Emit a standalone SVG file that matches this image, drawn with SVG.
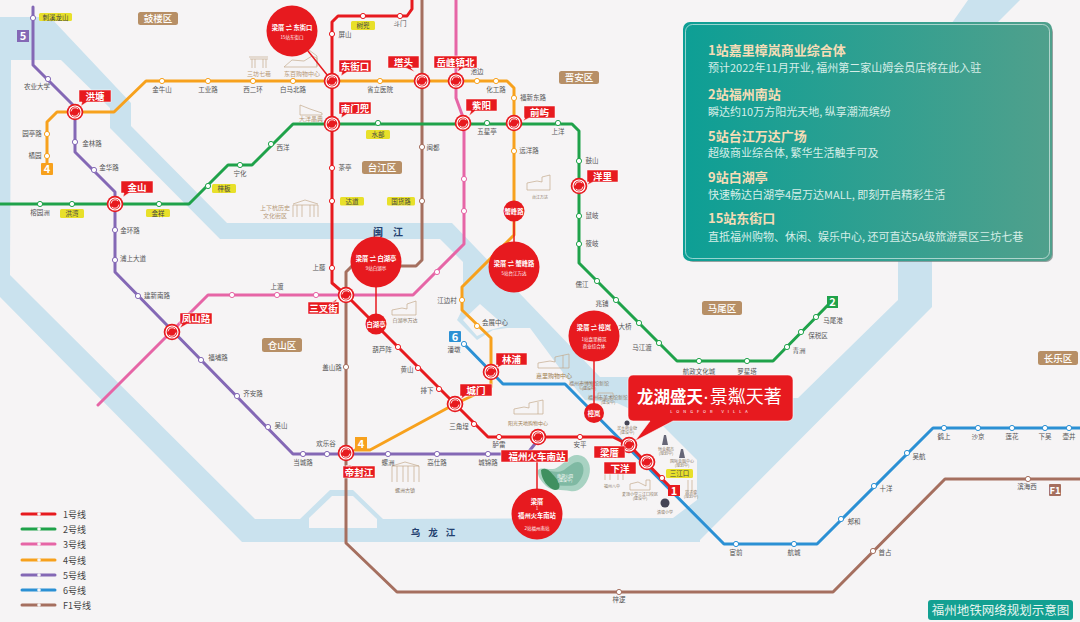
<svg xmlns="http://www.w3.org/2000/svg" width="1080" height="622" viewBox="0 0 1080 622">
<style>
text{font-family:"Noto Sans CJK SC","Noto Sans",sans-serif}
.ln{fill:none;stroke-width:3;stroke-linejoin:round;stroke-linecap:round}
.l1{stroke:#e71a1f}.l2{stroke:#1fa24a}.l3{stroke:#e665a6}.l4{stroke:#f7a11d}.l5{stroke:#8468b5}.l6{stroke:#2b90d4}.lf{stroke:#a56f5f}
.s{fill:#fff;stroke-width:1}
.st{font-size:6.5px;fill:#555;text-anchor:middle}
.cl{fill:#e71a1f;stroke:#fff;stroke-width:.5}
.ct{font-size:9.5px;font-weight:700;fill:#fff;text-anchor:middle}
.yb{fill:#e8e02a}
.yt{font-size:6.5px;fill:#444;text-anchor:middle}
.db{fill:#b78f66}
.dt{font-size:9.5px;font-weight:500;fill:#fff;text-anchor:middle}
.lb{font-size:11px;font-weight:700;fill:#fff;text-anchor:middle}
.lm{font-size:6px;fill:#b79a7a;text-anchor:middle}
.lm2{font-size:4px;fill:#8a7a68;text-anchor:middle}
.ic{fill:none;stroke:#c4aa8c;stroke-width:.7}
.c1{font-size:6.3px;font-weight:700;fill:#fff;text-anchor:middle}
.c2{font-size:4.5px;fill:#fff;text-anchor:middle}
.h{font-size:13px;font-weight:700;fill:#f6dcb6}
.p{font-size:11px;fill:#d6eee8}
.lg{font-size:9px;fill:#444}
</style>
<defs>
<g id="ix">
<circle r="8.3" fill="#e71a1f"/>
<circle r="6" fill="none" stroke="#fff" stroke-width="1.2"/>
<path d="M-4-.6A4.2 4.2 0 0 1 3.2-3" fill="none" stroke="#fff" stroke-width=".9"/>
<path d="M4 .6A4.2 4.2 0 0 1-3.2 3" fill="none" stroke="#fff" stroke-width=".9"/>
</g>
<linearGradient id="pg" x1="0" x2="1" y1="0" y2="0"><stop offset="0" stop-color="#0d9f95"/><stop offset="1" stop-color="#50a08c"/></linearGradient>
</defs>
<rect width="1080" height="622" fill="#f6f4f5"/>
<g id="water">
<polygon fill="#cae2ee" points="0,17 50,17 131,103 131,126 227,223 452,223 600,377 700,377 700,398 798,398 898,300 898,100 968,0 1020,0 932,88 932,307 700,540 700,542 242,542 0,297"/>
<polygon fill="#f6f4f5" points="11,60 61,60 110,108 110,128 220,239 440,239 463,262 463,308 457,320 477,340 493,330 507,328 530,328 567,378 585,400 617,403 660,423 697,460 697,500 673,518 383,519 353,490 330,490 300,519 255,519 35,300 10,275"/>
<polygon fill="#f6f4f5" points="309,518 332,496 353,496 377,519 377,528 309,528"/>
<polygon fill="#f6f4f5" points="463,320 480,304 505,326 490,330 477,336"/>
</g>
<g id="park">
<path d="M538 470C542 466 552 472 558 467C566 462 570 454 578 455C588 456 592 466 589 476C586 486 578 493 570 491C562 489 552 492 546 486C541 481 537 476 538 470Z" fill="#a8d2c2"/>
<path d="M544 470C550 470 556 474 564 470C572 464 576 460 581 463C586 468 583 478 577 484C570 488 562 484 552 486C547 482 543 476 544 470Z" fill="#7fb9a3"/>
<path d="M541 470C546 466 551 472 555 477C561 484 561 490 555 490C549 489 541 480 541 470Z" fill="#3f9060"/>
</g>
<g id="landmarks">
<path class="ic" d="M250 59h18M252 59v9M266 59v9M255 59v9M263 59v9M249 57l19 0"/>
<path class="ic" d="M284 67l8-7 12 1 8-5 5 2 0 9zM309 50l8 6v10"/>
<path class="ic" d="M300 115v-10l10 4 12 4v2z"/>
<path class="ic" d="M293 217v-12h25v12M297 205v12M314 205v12M302 205v12M310 205v12M293 204l12-4 13 4"/>
<path class="ic" d="M527 190v-7l10-2 5 1v-5l8-2v15z"/>
<path class="ic" d="M392 315v-5l10-2 5 1v-5l9-3v14z"/>
<path class="ic" d="M538 368v-5l12-2 5 1v-5l14-3v14zM563 355v13"/>
<path class="ic" d="M514 414v-5l10-2 5 1v-5l14-3v14zM538 402v12"/>
<path class="ic" d="M392 482v-16h27v16M397 466v16M414 466v16M403 466v16M408 466v16M392 466l13-4 14 4" stroke="#999"/>
<path class="ic" d="M580 383h12v6h-12zM598 393h15v6h-15z" stroke="#889"/>
<path class="ic" d="M605 480v-8h18v8M610 472v8M618 472v8"/>
<path class="ic" d="M630 490v-6l8-2 8 4v-6l4 0v10z"/>
<path class="ic" d="M688 480v14M692 480v14"/>
<path d="M662 445l2-10 2 0 2 10zM679 458l2-9 2 0 2 9z" fill="#667"/>
<circle cx="627" cy="423" r="2.5" fill="#445"/>
<circle cx="665" cy="503" r="4.5" fill="#445"/>
<text class="lm" x="259" y="76">三坊七巷</text>
<text class="lm" x="302" y="76">东百购物中心</text>
<text class="lm" x="311" y="121">大洋晶典</text>
<text class="lm" x="275" y="210">上下杭历史</text>
<text class="lm" x="275" y="218">文化街区</text>
<text class="lm2" x="540" y="199">台江万达</text>
<text class="lm2" x="405" y="322" style="font-size:5px">白湖亭万达</text>
<text class="lm" x="554" y="378" style="fill:#a08050">嘉里购物中心</text>
<text class="lm" x="528" y="425" style="fill:#a08050;font-size:5px">阳光天地购物中心</text>
<text class="lm2" x="405" y="492" style="font-size:5px">螺洲古镇</text>
<text class="lm2" x="589" y="385" style="font-size:5px">福州市博物馆新馆</text>
<text class="lm2" x="589" y="390">(建设中)</text>
<text class="lm2" x="608" y="399" style="font-size:5px">福州市美术馆新馆</text>
<text class="lm2" x="608" y="404">(建设中)</text>
<text class="lm2" x="565" y="478" style="fill:#fff">南湖公园</text>
<text class="lm2" x="565" y="482" style="fill:#fff">(建设中)</text>
<text class="lm2" x="627" y="430">滨水商业街</text>
<text class="lm2" x="627" y="434">(建设中)</text>
<text class="lm2" x="666" y="451">恒业都市</text>
<text class="lm2" x="666" y="455">(规划中)</text>
<text class="lm2" x="682" y="463">国际金融中心</text>
<text class="lm2" x="682" y="467">(规划中)</text>
<text class="lm2" x="612" y="488">福州八中</text>
<text class="lm2" x="640" y="496">麦顶小学三江口校区</text>
<text class="lm2" x="640" y="500">(建设中)</text>
<text class="lm2" x="665" y="514">清塘小学</text>
<text class="lm2" x="691" y="494">岩子塘</text>
<text class="lm2" x="691" y="498">(规划中)</text>
</g>
<g id="connectors">
<path class="ln lf" d="M422 0V260L416 266H352L346 272V543L397 592H833L945 479H1080"/>
<path class="ln l5" d="M33 7V65L75 107V152L115 192V272L293 454H527L538 440"/>
<path class="ln l3" d="M456 0V98L464 120V244L413 295H208L98 405"/>
<path class="ln l4" d="M47 163V122L57 112H114L146 81H507L514 88V235L462 287V310L491 338V387L455 404L370 450H355"/>
<path class="ln l2" d="M0 204H189L228 165H252L293 124H572L579 131V263L677 361H773L828 305"/>
<path class="ln l6" d="M464 344L503 384H565L724 544H817L933 428H1080"/>
<path class="ln l1" d="M412 0V9L407 16H338L332 22V283L346 295L488 437H613L629 445L673 490"/>
<path d="M292 31L332 81M376 262V324M514 211V267M594 336V413M537 462V514" fill="none" stroke="#e71a1f" stroke-width="1.5"/>
</g>
<g id="stations">
<g class="l1"><circle class="s" cx="332" cy="34" r="2.6"/><circle class="s" cx="332" cy="168" r="2.6"/><circle class="s" cx="332" cy="201" r="2.6"/><circle class="s" cx="332" cy="268" r="2.6"/><circle class="s" cx="363" cy="16" r="2.6"/><circle class="s" cx="400" cy="16" r="2.6"/><circle class="s" cx="398" cy="347" r="2.6"/><circle class="s" cx="418" cy="368" r="2.6"/><circle class="s" cx="439" cy="389" r="2.6"/><circle class="s" cx="474" cy="424" r="2.6"/><circle class="s" cx="499" cy="437" r="2.6"/><circle class="s" cx="580" cy="437" r="2.6"/><circle class="s" cx="662" cy="478" r="2.6"/></g>
<g class="l2"><circle class="s" cx="40" cy="204" r="2.6"/><circle class="s" cx="72" cy="204" r="2.6"/><circle class="s" cx="159" cy="204" r="2.6"/><circle class="s" cx="208" cy="186" r="2.6"/><circle class="s" cx="240" cy="165" r="2.6"/><circle class="s" cx="271" cy="144" r="2.6"/><circle class="s" cx="378" cy="123" r="2.6"/><circle class="s" cx="487" cy="123" r="2.6"/><circle class="s" cx="558" cy="123" r="2.6"/><circle class="s" cx="579" cy="161" r="2.6"/><circle class="s" cx="579" cy="216" r="2.6"/><circle class="s" cx="579" cy="244" r="2.6"/><circle class="s" cx="597" cy="281" r="2.6"/><circle class="s" cx="616" cy="300" r="2.6"/><circle class="s" cx="639" cy="323" r="2.6"/><circle class="s" cx="659" cy="343" r="2.6"/><circle class="s" cx="699" cy="361" r="2.6"/><circle class="s" cx="747" cy="361" r="2.6"/><circle class="s" cx="787" cy="347" r="2.6"/><circle class="s" cx="801" cy="332" r="2.6"/><circle class="s" cx="816" cy="317" r="2.6"/></g>
<g class="l3"><circle class="s" cx="464" cy="179" r="2.6"/><circle class="s" cx="464" cy="211" r="2.6"/><circle class="s" cx="437" cy="272" r="2.6"/><circle class="s" cx="316" cy="295" r="2.6"/><circle class="s" cx="277" cy="295" r="2.6"/><circle class="s" cx="232" cy="295" r="2.6"/></g>
<g class="l4"><circle class="s" cx="47" cy="134" r="2.6"/><circle class="s" cx="47" cy="156" r="2.6"/><circle class="s" cx="162" cy="81" r="2.6"/><circle class="s" cx="208" cy="81" r="2.6"/><circle class="s" cx="253" cy="81" r="2.6"/><circle class="s" cx="293" cy="81" r="2.6"/><circle class="s" cx="380" cy="81" r="2.6"/><circle class="s" cx="477" cy="81" r="2.6"/><circle class="s" cx="496" cy="81" r="2.6"/><circle class="s" cx="514" cy="98" r="2.6"/><circle class="s" cx="514" cy="151" r="2.6"/><circle class="s" cx="462" cy="300" r="2.6"/><circle class="s" cx="477" cy="326" r="2.6"/></g>
<g class="l5"><circle class="s" cx="33" cy="18" r="2.6"/><circle class="s" cx="48" cy="79" r="2.6"/><circle class="s" cx="75" cy="142" r="2.6"/><circle class="s" cx="94" cy="170" r="2.6"/><circle class="s" cx="115" cy="230" r="2.6"/><circle class="s" cx="115" cy="260" r="2.6"/><circle class="s" cx="138" cy="296" r="2.6"/><circle class="s" cx="201" cy="360" r="2.6"/><circle class="s" cx="237" cy="396" r="2.6"/><circle class="s" cx="268" cy="427" r="2.6"/><circle class="s" cx="303" cy="454" r="2.6"/><circle class="s" cx="327" cy="454" r="2.6"/><circle class="s" cx="388" cy="454" r="2.6"/><circle class="s" cx="437" cy="454" r="2.6"/><circle class="s" cx="488" cy="454" r="2.6"/></g>
<g class="l6"><circle class="s" cx="464" cy="344" r="2.6"/><circle class="s" cx="736" cy="544" r="2.6"/><circle class="s" cx="794" cy="544" r="2.6"/><circle class="s" cx="841" cy="519" r="2.6"/><circle class="s" cx="874" cy="486" r="2.6"/><circle class="s" cx="907" cy="453" r="2.6"/><circle class="s" cx="944" cy="428" r="2.6"/><circle class="s" cx="978" cy="428" r="2.6"/><circle class="s" cx="1012" cy="428" r="2.6"/><circle class="s" cx="1045" cy="428" r="2.6"/><circle class="s" cx="1069" cy="428" r="2.6"/></g>
<g class="lf"><circle class="s" cx="422" cy="147" r="2.6"/><circle class="s" cx="422" cy="201" r="2.6"/><circle class="s" cx="346" cy="367" r="2.6"/><circle class="s" cx="619" cy="592" r="2.6"/><circle class="s" cx="873" cy="551" r="2.6"/><circle class="s" cx="1028" cy="479" r="2.6"/></g>
</g>
<g id="station-labels">
<text class="st" x="37" y="89">农业大学</text><text class="st" x="32" y="136">园亭路</text><text class="st" x="35" y="158">橘园</text><text class="st" x="92" y="146">金林路</text><text class="st" x="109" y="170">金华路</text><text class="st" x="40" y="215">榕园洲</text><text class="st" x="130" y="233">金环路</text><text class="st" x="133" y="261">浦上大道</text><text class="st" x="157" y="298">建新南路</text><text class="st" x="162" y="92">金牛山</text><text class="st" x="208" y="92">工业路</text><text class="st" x="253" y="92">西二环</text><text class="st" x="293" y="92">白马北路</text><text class="st" x="240" y="176">宁化</text><text class="st" x="283" y="150">西洋</text><text class="st" x="345" y="170">茶亭</text><text class="st" x="345" y="37">屏山</text><text class="st" x="400" y="26">斗门</text><text class="st" x="380" y="92">省立医院</text><text class="st" x="477" y="74">池边</text><text class="st" x="496" y="92">化工路</text><text class="st" x="533" y="100">福新东路</text><text class="st" x="487" y="134">五星亭</text><text class="st" x="558" y="134">上洋</text><text class="st" x="529" y="153">远洋路</text><text class="st" x="433" y="150">闽都</text><text class="st" x="592" y="163">鼓山</text><text class="st" x="592" y="218">鼠岐</text><text class="st" x="592" y="246">筱岐</text><text class="st" x="582" y="287">儒江</text><text class="st" x="602" y="306">兆铺</text><text class="st" x="625" y="329">大桥</text><text class="st" x="642" y="350">马江渡</text><text class="st" x="699" y="374">航政文化城</text><text class="st" x="747" y="374">罗星塔</text><text class="st" x="799" y="353">青洲</text><text class="st" x="818" y="338">保税区</text><text class="st" x="833" y="323">马尾港</text><text class="st" x="319" y="270">上藤</text><text class="st" x="277" y="289">上渡</text><text class="st" x="447" y="303">江边村</text><text class="st" x="495" y="325">会展中心</text><text class="st" x="454" y="352">潘墩</text><text class="st" x="382" y="352">葫芦阵</text><text class="st" x="407" y="372">黄山</text><text class="st" x="427" y="393">排下</text><text class="st" x="459" y="429">三角埕</text><text class="st" x="332" y="370">盖山路</text><text class="st" x="326" y="446">欢乐谷</text><text class="st" x="303" y="465">当城路</text><text class="st" x="218" y="360">福埔路</text><text class="st" x="253" y="396">齐安路</text><text class="st" x="281" y="428">吴山</text><text class="st" x="388" y="465">螺洲</text><text class="st" x="437" y="465">高仕路</text><text class="st" x="488" y="465">城锦路</text><text class="st" x="499" y="447">胪雷</text><text class="st" x="580" y="447">安平</text><text class="st" x="736" y="555">宦前</text><text class="st" x="794" y="555">航城</text><text class="st" x="854" y="524">郏和</text><text class="st" x="886" y="491">十洋</text><text class="st" x="919" y="459">吴航</text><text class="st" x="944" y="439">鹤上</text><text class="st" x="978" y="439">沙京</text><text class="st" x="1012" y="439">莲花</text><text class="st" x="1045" y="439">下吴</text><text class="st" x="1069" y="439">壶井</text><text class="st" x="1027" y="489">滨海西</text><text class="st" x="885" y="555">首占</text><text class="st" x="619" y="602">梓逻</text>
</g>
<g id="yellow-labels">
<rect class="yb" x="39" y="13" width="33" height="8" rx="1.5"/><text class="yt" x="55.5" y="19.5">刺溪龙山</text>
<rect class="yb" x="60" y="209" width="24" height="9" rx="1.5"/><text class="yt" x="72" y="216">洪湾</text>
<rect class="yb" x="146" y="209" width="24" height="8" rx="1.5"/><text class="yt" x="158" y="215.5">金祥</text>
<rect class="yb" x="212" y="184" width="24" height="9" rx="1.5"/><text class="yt" x="224" y="191">梓板</text>
<rect class="yb" x="340" y="197" width="24" height="8.5" rx="1.5"/><text class="yt" x="352" y="203.5">达道</text>
<rect class="yb" x="387" y="197" width="28" height="8.5" rx="1.5"/><text class="yt" x="401" y="203.5">国货路</text>
<rect class="yb" x="366" y="130" width="24" height="9" rx="1.5"/><text class="yt" x="378" y="137">水部</text>
<rect class="yb" x="351" y="21" width="24" height="9" rx="1.5"/><text class="yt" x="363" y="28">树兜</text>
<rect class="yb" x="666" y="469" width="27" height="9" rx="1.5"/><text class="yt" x="679.5" y="476">三江口</text>
</g>
<g id="districts">
<rect class="db" x="138" y="12" width="40" height="13" rx="2.5"/><text class="dt" x="158" y="22">鼓楼区</text>
<rect class="db" x="362" y="161" width="40" height="13" rx="2.5"/><text class="dt" x="382" y="171">台江区</text>
<rect class="db" x="559" y="71" width="40" height="13" rx="2.5"/><text class="dt" x="579" y="81">晋安区</text>
<rect class="db" x="262" y="338" width="40" height="14" rx="2.5"/><text class="dt" x="282" y="348.500">仓山区</text>
<rect class="db" x="702" y="301" width="40" height="14" rx="2.500"/><text class="dt" x="722" y="311.500">马尾区</text>
<rect class="db" x="1038" y="351" width="40" height="14" rx="2.5"/><text class="dt" x="1058" y="361.500">长乐区</text>
<text x="393" y="236" font-size="10" font-weight="700" fill="#23406f" text-anchor="middle" letter-spacing="10">闽江</text>
<text x="437" y="536" font-size="9.500" font-weight="700" fill="#23406f" text-anchor="middle" letter-spacing="8">乌龙江</text>
</g>
<g id="line-badges">
<rect x="17" y="30" width="12" height="12" fill="#8468b5"/><text class="lb" x="23" y="40">5</text>
<rect x="41" y="163" width="12" height="12" fill="#f7a11d" rx="1"/><text class="lb" x="47" y="173">4</text>
<rect x="827" y="296" width="11" height="12" fill="#1fa24a"/><text class="lb" x="832.500" y="306">2</text>
<rect x="449" y="331" width="12" height="11" fill="#2b90d4" rx="1"/><text class="lb" x="455" y="341">6</text>
<rect x="668" y="485" width="12" height="11" fill="#e71a1f"/><text class="lb" x="674" y="495">1</text>
<rect x="355" y="437" width="12" height="13" fill="#f7a11d"/><text class="lb" x="361" y="448">4</text>
<rect x="1049" y="484" width="12" height="12" fill="#a56f5f" rx="1"/><text class="lb" x="1055" y="494" style="font-size:9.500px">F1</text>
</g>
<g id="node-hongtang"><use href="#ix" x="75" y="112"/><path class="cl" d="M79 90h32v12h-24l-6 4 1-4h-3z"/><text class="ct" x="95" y="99.500">洪塘</text></g>
<g id="node-jinshan"><use href="#ix" x="115" y="204"/><path class="cl" d="M121 181h32v12h-24l-6 4 1-4h-3z"/><text class="ct" x="137" y="190.500">金山</text></g>
<g id="node-dongjiekou"><use href="#ix" x="332" y="81"/><path class="cl" d="M339 60h32v12h-24l-6 4 1-4h-3z"/><text class="ct" x="355" y="69.500">东街口</text></g>
<g id="node-nanmendou"><use href="#ix" x="332" y="124"/><path class="cl" d="M339 102h32v12h-24l-6 4 1-4h-3z"/><text class="ct" x="355" y="111.500">南门兜</text></g>
<g id="node-tatou"><use href="#ix" x="422" y="81"/><path class="cl" d="M388 56h31v12h-8l4 4-9-4h-18z"/><text class="ct" x="403.500" y="65.500">塔头</text></g>
<g id="node-yuefeng"><use href="#ix" x="456" y="81"/><path class="cl" d="M434 56h43v12h-14l-6 4 2-4h-25z"/><text class="ct" x="455.500" y="65.500">岳峰镇北</text></g>
<g id="node-ziyang"><use href="#ix" x="463" y="123"/><path class="cl" d="M466 99h31v12h-22l-6 5 2-5h-5z"/><text class="ct" x="481.500" y="108.500">紫阳</text></g>
<g id="node-qianyu"><use href="#ix" x="514" y="123"/><path class="cl" d="M524 106h31v12h-26l-6 3 2-3h-1z"/><text class="ct" x="539.500" y="115.500">前屿</text></g>
<g id="node-yangli"><use href="#ix" x="579" y="186"/><path class="cl" d="M587 170h31v12h-25l-6 3 2-3h-2z"/><text class="ct" x="602.500" y="179.500">洋里</text></g>
<g id="node-sanchajie"><use href="#ix" x="346" y="295"/><path class="cl" d="M308 302h31v12h-31zM332 302l5-3-1 3z"/><text class="ct" x="323.500" y="311.500">三叉街</text></g>
<g id="node-fengshanlu"><use href="#ix" x="172" y="332"/><path class="cl" d="M180 313h32v11h-25l-7 4 2-4h-2z"/><text class="ct" x="196" y="322">凤山路</text></g>
<g id="node-difengjiang"><use href="#ix" x="346" y="453"/><path class="cl" d="M343 466h32v12h-32zM346 466l4-1 2 1z"/><text class="ct" x="359" y="475.500">帝封江</text></g>
<g id="node-chengmen"><use href="#ix" x="455" y="404"/><path class="cl" d="M460 384h32v12h-27l-4 3 1-3h-2z"/><text class="ct" x="476" y="393.500">城门</text></g>
<g id="node-linpu"><use href="#ix" x="491" y="372"/><path class="cl" d="M496 353h31v12h-25l-5 3 1-3h-2z"/><text class="ct" x="511.500" y="362.500">林浦</text></g>
<g id="node-nanzhan"><use href="#ix" x="538" y="437"/><path class="cl" d="M501 450h67v12h-67z"/><text class="ct" x="537" y="459.500">福州火车南站</text></g>
<g id="callout-logo"><path fill="#e71a1f" stroke="#fff" stroke-width=".6" d="M633 375H788a5 5 0 0 1 5 5V416a5 5 0 0 1-5 5H673L635 441 650 421H633a5 5 0 0 1-5-5V380a5 5 0 0 1 5-5Z"/><text x="637" y="403" font-size="16.500" font-weight="700" fill="#fff">龙湖盛天<tspan font-family="Liberation Sans" font-size="14" dx="1">·</tspan><tspan font-size="18" font-weight="400" dx="1">景粼天著</tspan></text><text x="711" y="412.500" font-size="4" fill="#fff" text-anchor="middle" letter-spacing="4">LONGFOR VILLA</text></g>
<g id="node-liangcuo"><use href="#ix" x="629" y="445"/><path class="cl" d="M594 446h31v12h-31z"/><text class="ct" x="609.500" y="455.500">梁厝</text></g>
<g id="node-xiayang"><use href="#ix" x="647" y="462"/><path class="cl" d="M604 462h32v12h-32z"/><text class="ct" x="620" y="471.500">下洋</text></g>
<g id="circle-dongjiekou"><circle cx="292" cy="31" r="25.500" fill="#e71a1f"/><text class="c1" x="292" y="30">梁厝 ⇌ 东街口</text><text class="c2" x="292" y="39">15站东街口</text></g>
<g id="circle-baihuting"><circle cx="376" cy="262" r="25.500" fill="#e71a1f"/><text class="c1" x="376" y="261">梁厝 ⇌ 白湖亭</text><text class="c2" x="376" y="270">9站白湖亭</text><circle cx="376" cy="324" r="10.500" fill="#e71a1f"/><text class="c1" x="376" y="327">白湖亭</text></g>
<g id="circle-taijiang"><circle cx="514" cy="267" r="25.500" fill="#e71a1f"/><text class="c1" x="514" y="266">梁厝 ⇌ 蟹峰路</text><text class="c2" x="514" y="275">5站台江万达</text><circle cx="514" cy="211" r="10.500" fill="#e71a1f"/><text class="c1" x="514" y="213.500">蟹峰路</text></g>
<g id="circle-zhanglan"><circle cx="594" cy="336" r="25.500" fill="#e71a1f"/><text class="c1" x="594" y="330">梁厝 ⇌ 樟岚</text><text class="c2" x="594" y="341">1站嘉里樟岚</text><text class="c2" x="594" y="348">商业综合体</text><circle cx="594" cy="413" r="10" fill="#e71a1f"/><text class="c1" x="594" y="415.500">樟岚</text></g>
<g id="circle-nanzhan"><circle cx="537" cy="514" r="25.500" fill="#e71a1f"/><text class="c1" x="537" y="504">梁厝</text><text class="c2" x="537" y="510">1</text><text class="c1" x="537" y="518">福州火车南站</text><text class="c2" x="537" y="530">2站福州南站</text></g>
<g id="panel">
<rect x="686" y="25" width="367" height="237" rx="7" fill="#6b7f7c" opacity=".7"/>
<rect x="683" y="22" width="369" height="239" rx="7" fill="url(#pg)"/>
<rect x="685.500" y="24.500" width="364" height="234" rx="7" fill="none" stroke="#fff" stroke-opacity=".7" stroke-width=".8"/>
<text class="h" x="708" y="54.500">1站嘉里樟岚商业综合体</text>
<text class="p" x="708" y="72">预计2022年11月开业, 福州第二家山姆会员店将在此入驻</text>
<text class="h" x="708" y="99">2站福州南站</text>
<text class="p" x="708" y="116">瞬达约10万方阳光天地, 纵享潮流缤纷</text>
<text class="h" x="708" y="141">5站台江万达广场</text>
<text class="p" x="708" y="157">超级商业综合体, 繁华生活触手可及</text>
<text class="h" x="708" y="182">9站白湖亭</text>
<text class="p" x="708" y="199">快速畅达白湖亭4层万达MALL, 即刻开启精彩生活</text>
<text class="h" x="708" y="223">15站东街口</text>
<text class="p" x="708" y="241">直抵福州购物、休闲、娱乐中心, 还可直达5A级旅游景区三坊七巷</text>
</g>
<g id="legend">
<g class="l1"><path class="ln" d="M22 514H55"/><circle cx="39" cy="514" r="1.800" fill="#f4f4f4" stroke="none"/></g><text class="lg" x="63" y="517.500">1号线</text>
<g class="l2"><path class="ln" d="M22 529H55"/><circle cx="39" cy="529" r="1.800" fill="#f4f4f4" stroke="none"/></g><text class="lg" x="63" y="532.500">2号线</text>
<g class="l3"><path class="ln" d="M22 544H55"/><circle cx="39" cy="544" r="1.800" fill="#f4f4f4" stroke="none"/></g><text class="lg" x="63" y="547.500">3号线</text>
<g class="l4"><path class="ln" d="M22 560H55"/><circle cx="39" cy="560" r="1.800" fill="#f4f4f4" stroke="none"/></g><text class="lg" x="63" y="563.500">4号线</text>
<g class="l5"><path class="ln" d="M22 575H55"/><circle cx="39" cy="575" r="1.800" fill="#f4f4f4" stroke="none"/></g><text class="lg" x="63" y="578.500">5号线</text>
<g class="l6"><path class="ln" d="M22 590H55"/><circle cx="39" cy="590" r="1.800" fill="#f4f4f4" stroke="none"/></g><text class="lg" x="63" y="593.500">6号线</text>
<g class="lf"><path class="ln" d="M22 605H55"/><circle cx="39" cy="605" r="1.800" fill="#f4f4f4" stroke="none"/></g><text class="lg" x="63" y="608.500">F1号线</text>
</g>
<g id="map-title"><rect x="928" y="600" width="145" height="20" rx="3" fill="#13a092"/><text x="1000.500" y="615" font-size="12.500" fill="#e6f5ef" text-anchor="middle">福州地铁网络规划示意图</text></g>
</svg>
